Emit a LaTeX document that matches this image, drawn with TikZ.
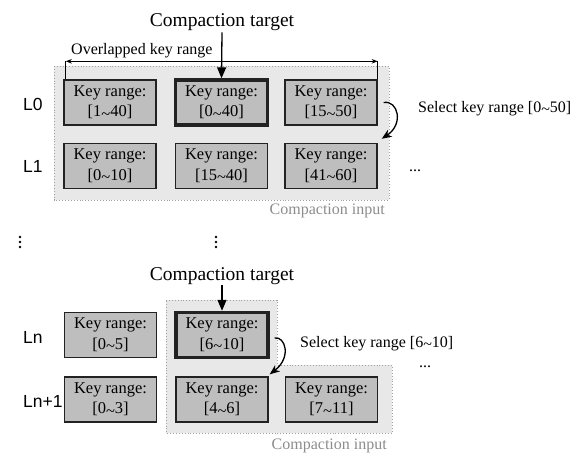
\documentclass[tikz,border=0pt]{standalone}
\usepackage{fontspec}
\setmainfont{Liberation Serif}
\newfontfamily\levelfont{Liberation Sans}
\usetikzlibrary{arrows.meta,calc}

\definecolor{boxgray}{HTML}{BEBEBE}
\definecolor{regiongray}{HTML}{E8E8E8}
\definecolor{regionline}{HTML}{A0A0A0}
\definecolor{inputtext}{HTML}{8C8C8C}
\definecolor{edgeline}{HTML}{222222}

% range separator set at mid height
\newcommand{\rto}{\raisebox{-0.32ex}{\textasciitilde}}

\begin{document}
\begin{tikzpicture}[x=1pt,y=-1pt,
  keybox/.style={draw=edgeline, fill=boxgray, line width=1.4pt,
    minimum width=92pt, minimum height=45pt, inner sep=0pt, align=center,
    font=\fontsize{16.5}{20.5}\selectfont},
  targetbox/.style={keybox, line width=3.4pt},
  region/.style={fill=regiongray, draw=regionline, dotted, line width=0.9pt},
  title/.style={font=\fontsize{19.5}{22}\selectfont, inner sep=1pt},
  note/.style={font=\fontsize{16}{19}\selectfont, inner sep=0pt},
  level/.style={font=\levelfont\fontsize{17.5}{20}\selectfont, inner sep=0pt, anchor=base west},
  inputlabel/.style={note, text=inputtext, anchor=base east},
  pointer/.style={line width=1.3pt, -{Triangle[length=11pt,width=9pt]}},
  curvearrow/.style={line width=1.3pt, -{Stealth[length=10pt,width=8pt,inset=3pt]}},
  span/.style={line width=0.9pt},
  vdot/.style={fill=black},
]
\useasboundingbox (0,0) rectangle (577,452);

% ---- upper part: L0 / L1 ----
\path[region] (54,66) rectangle (389,200);

\node[keybox]    (b01) at (110,102.5) {Key range:\\{}[1\rto40]};
\node[targetbox] (b02) at (221.5,102.5) {Key range:\\{}[0\rto40]};
\node[keybox]    (b03) at (331,102.5) {Key range:\\{}[15\rto50]};
\node[keybox]    (b11) at (110,166) {Key range:\\{}[0\rto10]};
\node[keybox]    (b12) at (221.5,166) {Key range:\\{}[15\rto40]};
\node[keybox]    (b13) at (331,166) {Key range:\\{}[41\rto60]};

\node[level] (l0) at (23,110) {L0};
\node[level] (l1) at (23,172) {L1};

\node[title, anchor=base] (tgtA) at (222,27) {Compaction target};
\draw[pointer] (tgtA.south) -- (b02.north);

% overlapped key range bracket
\coordinate (ovlL) at ($(b01.north west)+(2.5,-18)$);
\coordinate (ovlR) at ($(b03.north east)+(0,-18)$);
\draw[span] (ovlL) -- ($(b01.north west)+(2.5,0)$);
\draw[span] (ovlR) -- (b03.north east);
\draw[span, {Stealth[length=6pt,width=4.5pt]}-{Stealth[length=6pt,width=4.5pt]}] (ovlL) -- (ovlR);
\node[note, anchor=base west] (ovltext) at (71,55) {Overlapped key range};

\coordinate (selA) at ($(b03.east)+(6,0)$);
\coordinate (selAend) at ($(b13.north east)+(4,-4)$);
\draw[curvearrow] (selA) .. controls (398,100) and (404,124) .. (selAend);
\node[note, anchor=base west] (selAtext) at (418,112) {Select key range [0\rto50]};

\node[note, anchor=base] (moreA) at (415,171) {...};
\node[inputlabel] (inA) at (385,214) {Compaction input};

% ---- vertical ellipses ----
\foreach \dy in {237,242,247} {
  \fill[vdot] (20,\dy) circle (1.4);
  \fill[vdot] (216,\dy) circle (1.4);
}

% ---- lower part: Ln / Ln+1 ----
\path[region] (166,300) -- (277,300) -- (277,365) -- (392,365) -- (392,433) -- (166,433) -- cycle;

\node[keybox]    (bn1) at (110.5,335) {Key range:\\{}[0\rto5]};
\node[targetbox] (bn2) at (222,335) {Key range:\\{}[6\rto10]};
\node[keybox]    (bm1) at (110.5,399.5) {Key range:\\{}[0\rto3]};
\node[keybox]    (bm2) at (222,399.5) {Key range:\\{}[4\rto6]};
\node[keybox]    (bm3) at (331.5,399.5) {Key range:\\{}[7\rto11]};

\node[level] (ln)  at (23,343) {Ln};
\node[level] (ln1) at (23,407) {Ln+1};

\node[title, anchor=base] (tgtB) at (222,280) {Compaction target};
\draw[pointer] (tgtB.south) -- (bn2.north);

\coordinate (selB) at ($(bn2.east)+(5,3)$);
\coordinate (selBend) at ($(bm2.north east)+(1,-2)$);
\draw[curvearrow] (selB) .. controls (285,336) and (292,357) .. (selBend);
\node[note, anchor=base west] (selBtext) at (300,347) {Select key range [6\rto10]};

\node[note, anchor=base] (moreB) at (425,367) {...};
\node[inputlabel] (inB) at (387,449) {Compaction input};
\end{tikzpicture}
\end{document}
